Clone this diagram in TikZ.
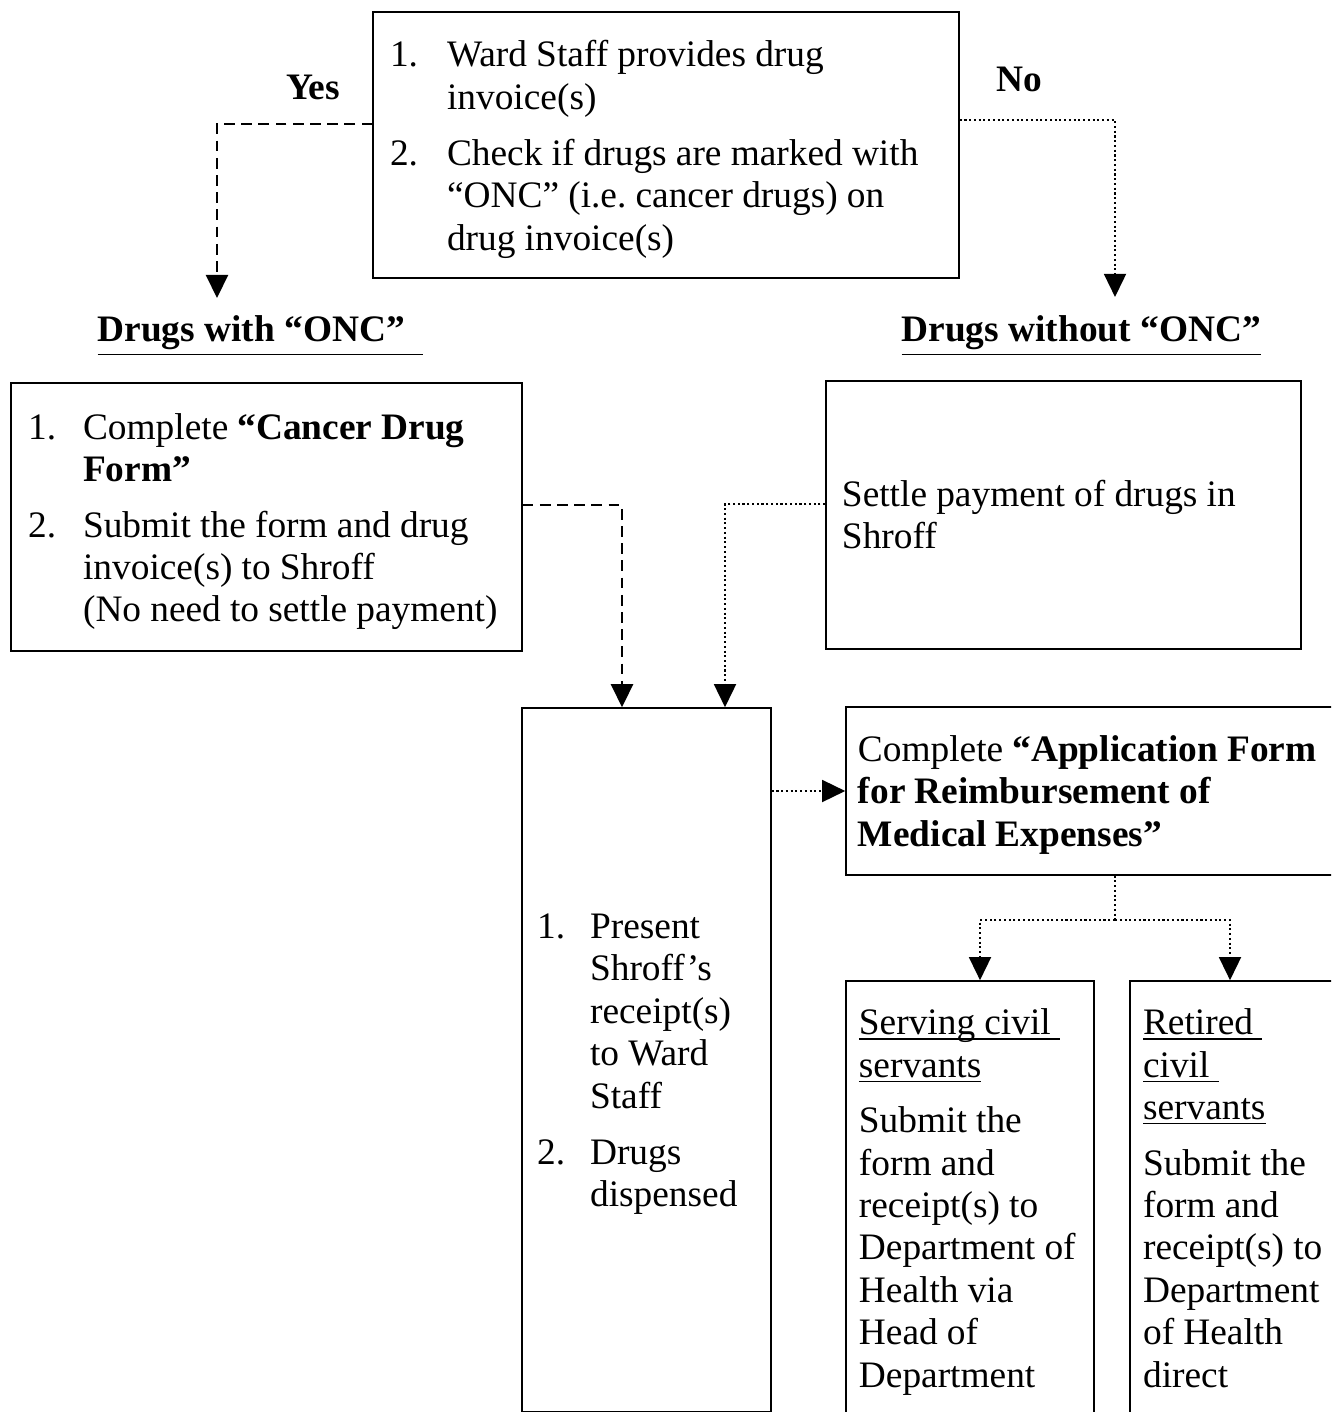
\documentclass[tikz,border=0pt]{standalone}
\usepackage{fontspec}
\setmainfont{Liberation Serif}
\usetikzlibrary{arrows.meta,calc,positioning}
\newdimen\pxu \pxu=0.3372pt
\newcommand{\uln}[1]{\underline{\smash{#1}}}
\newcommand{\tightspace}{\spaceskip=3.1pt plus 1pt\relax}

\begin{document}
\frenchspacing
\begin{tikzpicture}[x=0.3372pt, y=-0.3372pt, >={Triangle[length=7.8pt,width=7.4pt]},
	font=\fontsize{12.6}{14.3}\selectfont,
	box/.style={draw, line width=0.5pt, inner ysep=0pt},
	lbl/.style={font=\fontsize{12.6}{14.3}\selectfont\bfseries, inner sep=0pt},
	dash line/.style={line width=1pt, dash pattern=on 3.6pt off 2.2pt},
	dot line/.style={line width=0.7pt, dash pattern=on 0.7pt off 0.9pt}]
	\useasboundingbox (0,0) rectangle (1331,1412);
	\clip (0,0) rectangle (1331,1412);

	%boxes
	\node[box, minimum height=89.7pt, text width=186.1pt, inner xsep=5.73pt] (check) at (666,145)
		{\tightspace\begin{tabular}{@{}p{57\pxu}@{}l@{}}
		1. & Ward Staff provides drug\\
		   & invoice(s)\\[4.6pt]
		2. & Check if drugs are marked with\\
		   & “ONC” (i.e. cancer drugs) on\\
		   & drug invoice(s)\\[-10\pxu]
		\end{tabular}};
	\node[box, minimum height=90.4pt, text width=160.8pt, inner xsep=5.73pt] (cancerform) at (266.5,517)
		{\tightspace\begin{tabular}{@{}p{55\pxu}@{}l@{}}
		1. & Complete \textbf{“Cancer Drug}\\
		   & \textbf{Form”}\\[4.4pt]
		2. & Submit the form and drug\\
		   & invoice(s) to Shroff\\
		   & (No need to settle payment)\\[-10\pxu]
		\end{tabular}};
	\node[box, minimum height=90.4pt, text width=149.4pt, inner xsep=5.4pt] (settle) at (1063.5,515)
		{\tightspace\begin{tabular}{@{}l@{}}
		Settle payment of drugs in\\
		Shroff\\[-8\pxu]
		\end{tabular}};
	\node[box, minimum height=237.4pt, text width=73.8pt, inner xsep=5.06pt] (present) at (646.5,1060)
		{\tightspace\begin{tabular}{@{}p{53\pxu}@{}l@{}}
		1. & Present\\
		   & Shroff’s\\
		   & receipt(s)\\
		   & to Ward\\
		   & Staff\\[4.6pt]
		2. & Drugs\\
		   & dispensed\\[-8\pxu]
		\end{tabular}};
	\node[box, minimum height=56.6pt, text width=160.2pt, inner xsep=4.05pt] (appform) at (1095.5,791)
		{\tightspace\begin{tabular}{@{}l@{}}
		Complete \textbf{“Application Form}\\
		\textbf{for Reimbursement of}\\
		\textbf{Medical Expenses”}\\[-9\pxu]
		\end{tabular}};
	\node[box, minimum height=147.4pt, text width=74.9pt, inner xsep=4.38pt] (serving) at (970,1199.5)
		{\tightspace\begin{tabular}{@{}l@{}}
		\uln{Serving civil\ }\\
		\uln{servants}\\[4.4pt]
		Submit the\\ form and\\ receipt(s) to\\ Department of\\ Health via\\ Head of\\ Department\\[-6\pxu]
		\end{tabular}};
	\node[box, minimum height=147.4pt, text width=75.5pt, inner xsep=4.38pt] (retired) at (1255,1199.5)
		{\tightspace\begin{tabular}{@{}l@{}}
		\uln{Retired\ }\\
		\uln{civil\ }\\
		\uln{servants}\\[4.4pt]
		Submit the\\ form and\\ receipt(s) to\\ Department\\ of Health\\ direct\\[-6\pxu]
		\end{tabular}};

	%labels
	\node[lbl] (yes) at (313,87) {Yes};
	\node[lbl] (no) at (1019,79) {No};
	\node[lbl, anchor=base west] (withonc) at (97,342) {\underline{Drugs with “ONC”\hspace{6pt}}};
	\node[lbl, anchor=base west] (withoutonc) at (901,342) {\underline{Drugs without “ONC”}};

	%yes / no
	\coordinate (yesend) at (217,298);
	\coordinate (noend) at (1115,297);
	\draw[dash line,->] (check.west |- 0,124) -| (yesend);
	\draw[dot line,->] (check.east |- 0,120) -| (noend);

	%into the middle box
	\draw[dash line,->] (cancerform.east |- 0,505) -| ($(present.north)+(-24.5,0)$);
	\draw[dot line,->] (settle.west |- 0,504) -| ($(present.north)+(78.5,0)$);
	\draw[dot line,->] (present.east |- appform.west) -- (appform.west);

	%split
	\coordinate (split) at (1115,920);
	\draw[dot line] (appform.south -| split) -- (split);
	\draw[dot line,->] (split) -| ($(serving.north)+(10,0)$);
	\draw[dot line,->] (split) -| ($(retired.north)+(-25,0)$);
\end{tikzpicture}
\end{document}
